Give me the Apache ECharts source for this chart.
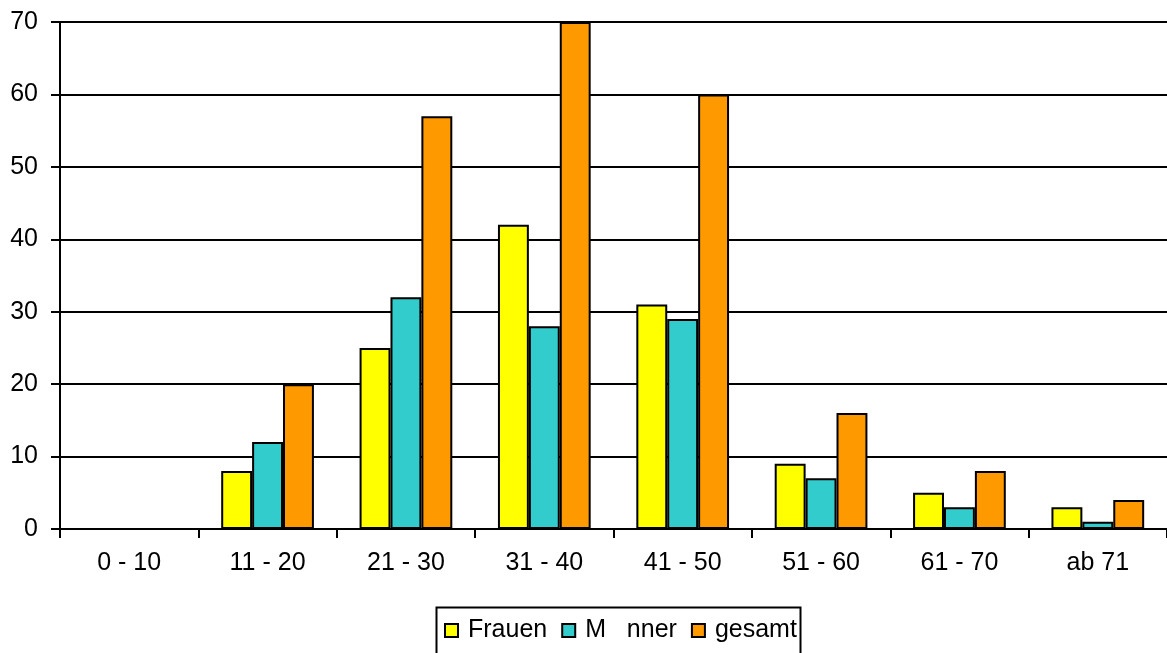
<!DOCTYPE html>
<html><head><meta charset="utf-8">
<script src="https://cdn.jsdelivr.net/npm/echarts@6/dist/echarts.min.js"></script>
<style>html,body{margin:0;padding:0;background:#fff}#c{width:1167px;height:653px}</style>
</head><body><div id="c"></div>
<script>
const categories = ['0 - 10','11 - 20','21 - 30','31 - 40','41 - 50','51 - 60','61 - 70','ab 71'];
const frauen = [0, 8, 25, 42, 31, 9, 5, 3];
const maenner = [0, 12, 32, 28, 29, 7, 3, 1];
const gesamt = [0, 20, 57, 70, 60, 16, 8, 4];
const yTicks = {min: 0, max: 70, interval: 10};
const seriesNames = ['Frauen', 'M\u00a0\u00a0\u00a0nner', 'gesamt'];
const colors = ['#FFFF00', '#33CCCC', '#FF9900'];

const chart = echarts.init(document.getElementById('c'), null, {renderer: 'canvas'});
const font = 'Liberation Sans, Arial, sans-serif';
const mk = (name, data, color) => ({
  name, type: 'bar', data, barGap: '0%', barCategoryGap: '33%',
  itemStyle: {color, borderColor: '#000', borderWidth: 2},
  emphasis: {disabled: true}
});
chart.setOption({
  animation: false,
  textStyle: {fontFamily: font},
  grid: {left: 60, top: 22, bottom: 124, width: 1110, containLabel: false},
  xAxis: {
    type: 'category', data: categories,
    axisLine: {lineStyle: {color: '#000', width: 2}},
    axisTick: {show: true, length: 9, lineStyle: {color: '#000', width: 2}},
    axisLabel: {color: '#000', fontSize: 25, fontFamily: font, margin: 22, interval: 0}
  },
  yAxis: {
    type: 'value', min: yTicks.min, max: yTicks.max, interval: yTicks.interval,
    axisLine: {show: true, lineStyle: {color: '#000', width: 2}},
    axisTick: {show: true, length: 9, lineStyle: {color: '#000', width: 2}},
    axisLabel: {color: '#000', fontSize: 25, fontFamily: font, margin: 22},
    splitLine: {show: true, lineStyle: {color: '#000', width: 2}}
  },
  legend: {
    data: seriesNames, left: 444, top: 618, itemWidth: 13, itemHeight: 13, itemGap: 14,
    icon: 'rect',
    itemStyle: {borderColor: '#000', borderWidth: 2},
    textStyle: {color: '#000', fontSize: 25, fontFamily: font, padding: [0, 0, 0, 5]},
    padding: 0
  },
  graphic: [{
    type: 'rect', left: 434, top: 605, z: 100, silent: true,
    shape: {width: 364, height: 60},
    style: {fill: 'none', stroke: '#000', lineWidth: 2}
  }],
  series: [mk(seriesNames[0], frauen, colors[0]), mk(seriesNames[1], maenner, colors[1]), mk(seriesNames[2], gesamt, colors[2])]
});
</script></body></html>
